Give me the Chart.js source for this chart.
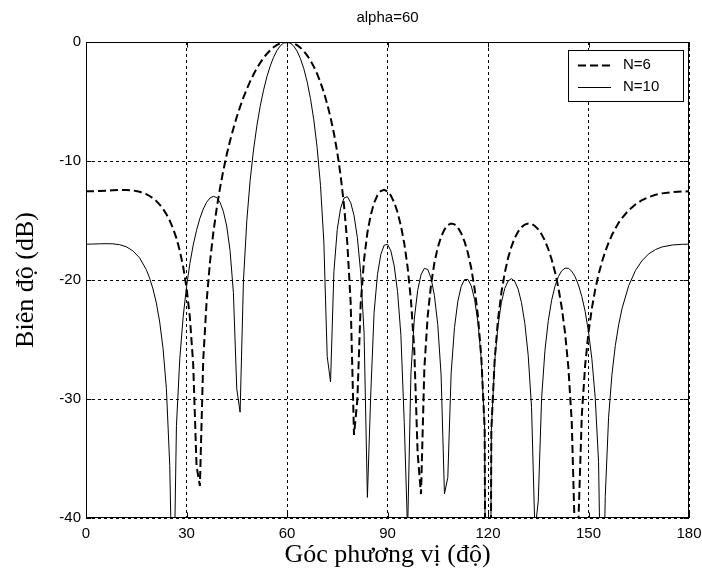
<!DOCTYPE html>
<html>
<head>
<meta charset="utf-8">
<script src="https://cdn.jsdelivr.net/npm/chart.js@4.4.1/dist/chart.umd.min.js"></script>
<style>
html,body{margin:0;padding:0;background:#fff;}
canvas{display:block;}
</style>
</head>
<body>
<canvas id="c" width="702" height="579" style="width:702px;height:579px"></canvas>
<script>
const TITLE = 'alpha=60';
const X_LABEL = 'Góc phương vị (độ)';
const Y_LABEL = 'Biên độ (dB)';
const SERIES_NAMES = ['N=6', 'N=10'];
const X_TICKS = [0, 30, 60, 90, 120, 150, 180];
const Y_TICKS = [0, -10, -20, -30, -40];

const ANGLES = [0,2,4,6,8,10,12,14,16,18,
19,20,21,22,23,24,25,26,27,28,29,30,31,32,33,34,35,36,37,38,39,40,
41,42,43,44,45,46,47,48,49,50,51,52,53,54,55,56,57,58,59,60,
61,62,63,64,65,66,67,68,69,70,71,72,73,74,75,76,77,78,79,80,
81,82,83,84,85,86,87,88,89,90,91,92,93,94,95,96,97,98,99,100,
101,102,103,104,105,106,107,108,109,110,111,112,113,114,115,116,117,118,119,120,
121,122,123,124,125,126,127,128,129,130,131,132,133,134,135,136,137,138,139,140,
141,142,143,144,145,146,147,148,149,150,151,152,153,154,155,156,157,158,159,160,
162,164,166,168,170,172,175,178,180];

const N6_DB = [-12.55,-12.54,-12.52,-12.50,-12.46,-12.43,-12.43,-12.47,-12.59,-12.79,
-12.94,-13.13,-13.37,-13.67,-14.03,-14.47,-15.01,-15.68,-16.50,-17.54,-18.87,-20.63,-23.12,-27.07,-35.64,-37.30,-26.70,-21.82,-18.53,-16.03,-14.00,-12.28,
-10.79,-9.47,-8.30,-7.26,-6.30,-5.44,-4.66,-3.95,-3.31,-2.73,-2.21,-1.75,-1.34,-0.99,-0.69,-0.44,-0.25,-0.11,-0.03,0,
-0.03,-0.12,-0.27,-0.48,-0.76,-1.12,-1.55,-2.07,-2.68,-3.40,-4.23,-5.20,-6.34,-7.67,-9.26,-11.21,-13.66,-16.89,-21.88,-33.02,
-30.10,-21.99,-18.30,-16.01,-14.53,-13.52,-12.88,-12.53,-12.43,-12.55,-12.90,-13.48,-14.31,-15.44,-16.91,-18.91,-21.68,-25.91,-34.56,-38.00,
-27.41,-23.03,-20.38,-18.55,-17.27,-16.36,-15.76,-15.39,-15.25,-15.32,-15.59,-16.07,-16.77,-17.73,-19.01,-20.73,-23.04,-26.48,-32.47,-100,
-32.55,-26.65,-23.30,-21.05,-19.40,-18.14,-17.19,-16.46,-15.93,-15.56,-15.34,-15.26,-15.29,-15.46,-15.74,-16.16,-16.70,-17.40,-18.27,-19.33,
-20.64,-22.29,-24.43,-27.37,-31.93,-42.21,-40.25,-31.38,-27.16,-24.40,-22.38,-20.81,-19.54,-18.49,-17.61,-16.86,-16.22,-15.67,-15.19,-14.79,
-14.13,-13.65,-13.28,-13.03,-12.84,-12.72,-12.61,-12.56,-12.55];

const N10_DB = [-16.99,-16.98,-16.96,-16.95,-16.96,-17.03,-17.20,-17.55,-18.14,-19.13,
-19.85,-20.76,-21.94,-23.53,-25.75,-29.14,-35.60,-49.80,-32.24,-26.60,-23.11,-20.58,-18.63,-17.07,-15.82,-14.81,-14.04,-13.47,-13.11,-12.97,-13.07,-13.47,
-14.23,-15.46,-17.53,-21.05,-29.15,-31.11,-20.08,-15.02,-11.62,-9.08,-7.05,-5.40,-4.05,-2.92,-2.01,-1.28,-0.72,-0.32,-0.08,0,
-0.08,-0.34,-0.76,-1.39,-2.23,-3.33,-4.74,-6.54,-8.88,-12.05,-16.80,-26.42,-28.57,-19.31,-15.75,-13.97,-13.12,-12.99,-13.48,-14.57,
-16.42,-19.39,-24.39,-38.27,-29.59,-22.72,-19.56,-17.86,-17.08,-16.99,-17.55,-18.81,-20.98,-24.64,-31.98,-41.16,-27.82,-23.28,-20.88,-19.56,
-19.02,-19.11,-19.84,-21.30,-23.75,-27.98,-37.98,-36.60,-27.82,-23.98,-21.79,-20.54,-19.96,-19.95,-20.49,-21.64,-23.56,-26.70,-32.53,-100,
-32.62,-26.87,-23.79,-21.88,-20.71,-20.08,-19.89,-20.12,-20.77,-21.91,-23.66,-26.32,-30.73,-41.12,-38.59,-29.95,-25.92,-23.41,-21.70,-20.51,
-19.72,-19.23,-19.00,-19.02,-19.26,-19.72,-20.42,-21.38,-22.64,-24.35,-26.61,-29.86,-35.26,-52.60,-38.19,-31.53,-27.94,-25.51,-23.77,-22.41,
-20.48,-19.21,-18.36,-17.80,-17.44,-17.22,-17.06,-17.00,-16.99];

const SANS = "'Liberation Sans', Arial, sans-serif";
const SERIF = "'Liberation Serif', 'Times New Roman', serif";
const DASH6 = [8, 4];

const framePlugin = {
  id: 'frame',
  afterDatasetsDraw(chart) {
    const {ctx, chartArea: a, scales: {x, y}} = chart;
    ctx.save();
    ctx.strokeStyle = '#000';
    ctx.lineWidth = 1;
    ctx.setLineDash([]);
    const L = Math.round(a.left) + 0.5, R = Math.round(a.right) - 0.5;
    const T = Math.round(a.top) + 0.5, B = Math.round(a.bottom) - 0.5;
    ctx.strokeRect(L, T, R - L, B - T);
    const tl = 5;
    ctx.beginPath();
    X_TICKS.forEach(v => {
      const px = Math.round(x.getPixelForValue(v)) + 0.5;
      ctx.moveTo(px, B); ctx.lineTo(px, B - tl);
      ctx.moveTo(px, T); ctx.lineTo(px, T + tl);
    });
    Y_TICKS.forEach(v => {
      const py = Math.round(y.getPixelForValue(v)) + 0.5;
      ctx.moveTo(L, py); ctx.lineTo(L + tl, py);
      ctx.moveTo(R, py); ctx.lineTo(R - tl, py);
    });
    ctx.stroke();
    ctx.restore();
  }
};

const titlePlugin = {
  id: 'axTitle',
  afterDraw(chart) {
    const {ctx, chartArea: a} = chart;
    ctx.save();
    ctx.fillStyle = '#000';
    ctx.font = '15px ' + SANS;
    ctx.textAlign = 'center';
    ctx.textBaseline = 'alphabetic';
    ctx.fillText(TITLE, (a.left + a.right) / 2, 22);
    ctx.restore();
  }
};

const legendPlugin = {
  id: 'boxLegend',
  afterDraw(chart) {
    const {ctx, chartArea: a} = chart;
    const w = 116, h = 52;
    const bx = Math.round(a.right) - 5 - w, by = Math.round(a.top) + 8;
    ctx.save();
    ctx.fillStyle = '#fff';
    ctx.fillRect(bx, by, w, h);
    ctx.strokeStyle = '#000';
    ctx.lineWidth = 1;
    ctx.setLineDash([]);
    ctx.strokeRect(bx + 0.5, by + 0.5, w - 1, h - 1);
    const rows = [by + 15, by + 37];
    chart.data.datasets.forEach((ds, i) => {
      const yy = rows[i] + 0.5;
      ctx.save();
      ctx.strokeStyle = ds.borderColor;
      ctx.lineWidth = ds.borderWidth;
      ctx.setLineDash(ds.borderDash || []);
      ctx.beginPath();
      ctx.moveTo(bx + 10, yy);
      ctx.lineTo(bx + 43, yy);
      ctx.stroke();
      ctx.restore();
      ctx.fillStyle = '#000';
      ctx.font = '15px ' + SANS;
      ctx.textAlign = 'left';
      ctx.textBaseline = 'middle';
      ctx.fillText(ds.label, bx + 55, rows[i]);
    });
    ctx.restore();
  }
};

const toPts = arr => ANGLES.map((ang, i) => ({x: ang, y: arr[i]}));

new Chart(document.getElementById('c'), {
  type: 'line',
  data: {
    datasets: [
      {label: SERIES_NAMES[0], data: toPts(N6_DB), borderColor: '#000', borderWidth: 2, borderDash: DASH6,
       pointRadius: 0, fill: false, tension: 0},
      {label: SERIES_NAMES[1], data: toPts(N10_DB), borderColor: '#000', borderWidth: 1,
       pointRadius: 0, fill: false, tension: 0}
    ]
  },
  options: {
    responsive: false,
    animation: false,
    devicePixelRatio: 1,
    layout: {padding: {top: 42, right: 13, left: 0, bottom: 0}},
    plugins: {legend: {display: false}, tooltip: {enabled: false}, title: {display: false}},
    scales: {
      x: {
        type: 'linear', min: 0, max: 180,
        afterBuildTicks: s => { s.ticks = X_TICKS.slice().sort((p, q) => p - q).map(v => ({value: v})); },
        afterFit: s => { s.height = 61; },
        grid: {color: '#000', lineWidth: 1, drawTicks: true, tickLength: 7, tickColor: 'rgba(0,0,0,0)'},
        border: {display: false, dash: [3, 3]},
        ticks: {color: '#000', font: {family: SANS, size: 15}, padding: 0, maxRotation: 0, autoSkip: false},
        title: {display: true, text: X_LABEL, color: '#000', font: {family: SERIF, size: 26}, padding: {top: 0, bottom: 8}}
      },
      y: {
        type: 'linear', min: -40, max: 0,
        afterBuildTicks: s => { s.ticks = Y_TICKS.slice().sort((p, q) => p - q).map(v => ({value: v})); },
        afterFit: s => { s.width = 86; },
        grid: {color: '#000', lineWidth: 1, drawTicks: false},
        border: {display: false, dash: [3, 3]},
        ticks: {color: '#000', font: {family: SANS, size: 15}, padding: 5, autoSkip: false},
        title: {display: true, text: Y_LABEL, color: '#000', font: {family: SERIF, size: 26}, padding: {top: 11, bottom: 0}}
      }
    }
  },
  plugins: [framePlugin, titlePlugin, legendPlugin]
});
</script>
</body>
</html>
